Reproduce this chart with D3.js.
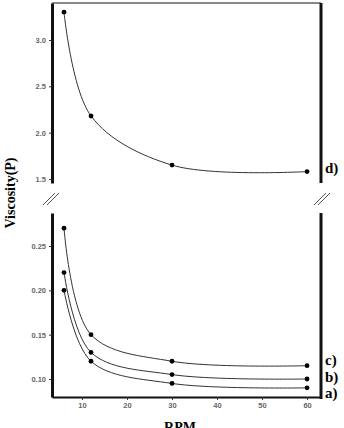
<!DOCTYPE html>
<html><head><meta charset="utf-8">
<script src="https://cdn.jsdelivr.net/npm/d3@7"></script>
<style>html,body{margin:0;padding:0;background:#fff;overflow:hidden}</style>
</head><body>
<script>
const rpm = [6, 12, 30, 60];
const seriesA = [0.20, 0.12, 0.095, 0.09];
const seriesB = [0.22, 0.13, 0.105, 0.10];
const seriesC = [0.27, 0.15, 0.12, 0.115];
const seriesD = [3.30, 2.18, 1.65, 1.58];
const xTicks = [10, 20, 30, 40, 50, 60];
const yTicksTop = [1.5, 2.0, 2.5, 3.0];
const yTicksBottom = [0.10, 0.15, 0.20, 0.25];

const W = 344, H = 428;
const svg = d3.select("body").append("svg").attr("width", W).attr("height", H);

const L = 52, R = 321;
const x = d3.scaleLinear().domain([3.33, 63.1]).range([L, R]);
const yT = d3.scaleLinear().domain([1.457, 3.399]).range([183, 3]);
const yB = d3.scaleLinear().domain([0.0797, 0.2872]).range([397, 213]);

const tickFont = "Liberation Sans, Arial, sans-serif";
const serif = "Liberation Serif, Times New Roman, serif";

function styleAxis(g, w) {
  g.select(".domain").attr("stroke", "#111").attr("stroke-width", w);
  g.selectAll(".tick line").attr("stroke", "#333").attr("stroke-width", 1);
  g.selectAll(".tick text").attr("font-family", tickFont).attr("font-size", 7.5)
    .attr("font-weight", "bold").attr("fill", "#666");
}

// top border
svg.append("line").attr("x1", L).attr("x2", R).attr("y1", 3).attr("y2", 3)
  .attr("stroke", "#888").attr("stroke-width", 2);

// top panel axes
const gTL = svg.append("g").attr("transform", `translate(${L},0)`)
  .call(d3.axisLeft(yT).tickValues(yTicksTop).tickFormat(d3.format(".1f")).tickSize(3).tickSizeOuter(0).tickPadding(3));
styleAxis(gTL, 3);
svg.append("line").attr("x1", R).attr("x2", R).attr("y1", yT.range()[1]).attr("y2", yT.range()[0])
  .attr("stroke", "#111").attr("stroke-width", 3);

// bottom panel axes
const gBL = svg.append("g").attr("transform", `translate(${L},0)`)
  .call(d3.axisLeft(yB).tickValues(yTicksBottom).tickFormat(d3.format(".2f")).tickSize(3).tickSizeOuter(0).tickPadding(3));
styleAxis(gBL, 3);
const gX = svg.append("g").attr("transform", `translate(0,${yB.range()[0]})`)
  .call(d3.axisBottom(x).tickValues(xTicks).tickFormat(d3.format("d")).tickSize(3).tickSizeOuter(0).tickPadding(3));
styleAxis(gX, 2);
svg.append("line").attr("x1", R).attr("x2", R).attr("y1", yB.range()[1]).attr("y2", yB.range()[0] + 2)
  .attr("stroke", "#111").attr("stroke-width", 3);

// break marks
function breakMark(cx, cy) {
  [-2, 2].forEach(o => {
    svg.append("line").attr("x1", cx - 6 + o).attr("y1", cy + 6).attr("x2", cx + 6 + o).attr("y2", cy - 6)
      .attr("stroke", "#555").attr("stroke-width", 1);
  });
}
breakMark(51, 199);
breakMark(322, 199);

// curves
function drawSeries(vals, ys, label, ly) {
  const pts = rpm.map((r, i) => [r, vals[i]]);
  const line = d3.line().x(d => x(d[0])).y(d => ys(d[1])).curve(d3.curveCatmullRom.alpha(0.5));
  svg.append("path").attr("d", line(pts)).attr("fill", "none").attr("stroke", "#333").attr("stroke-width", 1);
  svg.append("g").selectAll("circle").data(pts).join("circle")
    .attr("cx", d => x(d[0])).attr("cy", d => ys(d[1])).attr("r", 2.4).attr("fill", "#000");
  svg.append("text").attr("x", R + 4).attr("y", ly).attr("font-family", serif).attr("font-weight", "bold")
    .attr("font-size", 15).attr("dominant-baseline", "central").text(label);
}
drawSeries(seriesD, yT, "d)", 168);
drawSeries(seriesC, yB, "c)", 360);
drawSeries(seriesB, yB, "b)", 377);
drawSeries(seriesA, yB, "a)", 393);

// axis titles
svg.append("text").attr("transform", "translate(15,193) rotate(-90)").attr("text-anchor", "middle")
  .attr("font-family", serif).attr("font-weight", "bold").attr("font-size", 14).text("Viscosity(P)");
svg.append("text").attr("x", 180).attr("y", 432).attr("text-anchor", "middle")
  .attr("font-family", serif).attr("font-weight", "bold").attr("font-size", 14).text("RPM");
</script>
</body></html>
